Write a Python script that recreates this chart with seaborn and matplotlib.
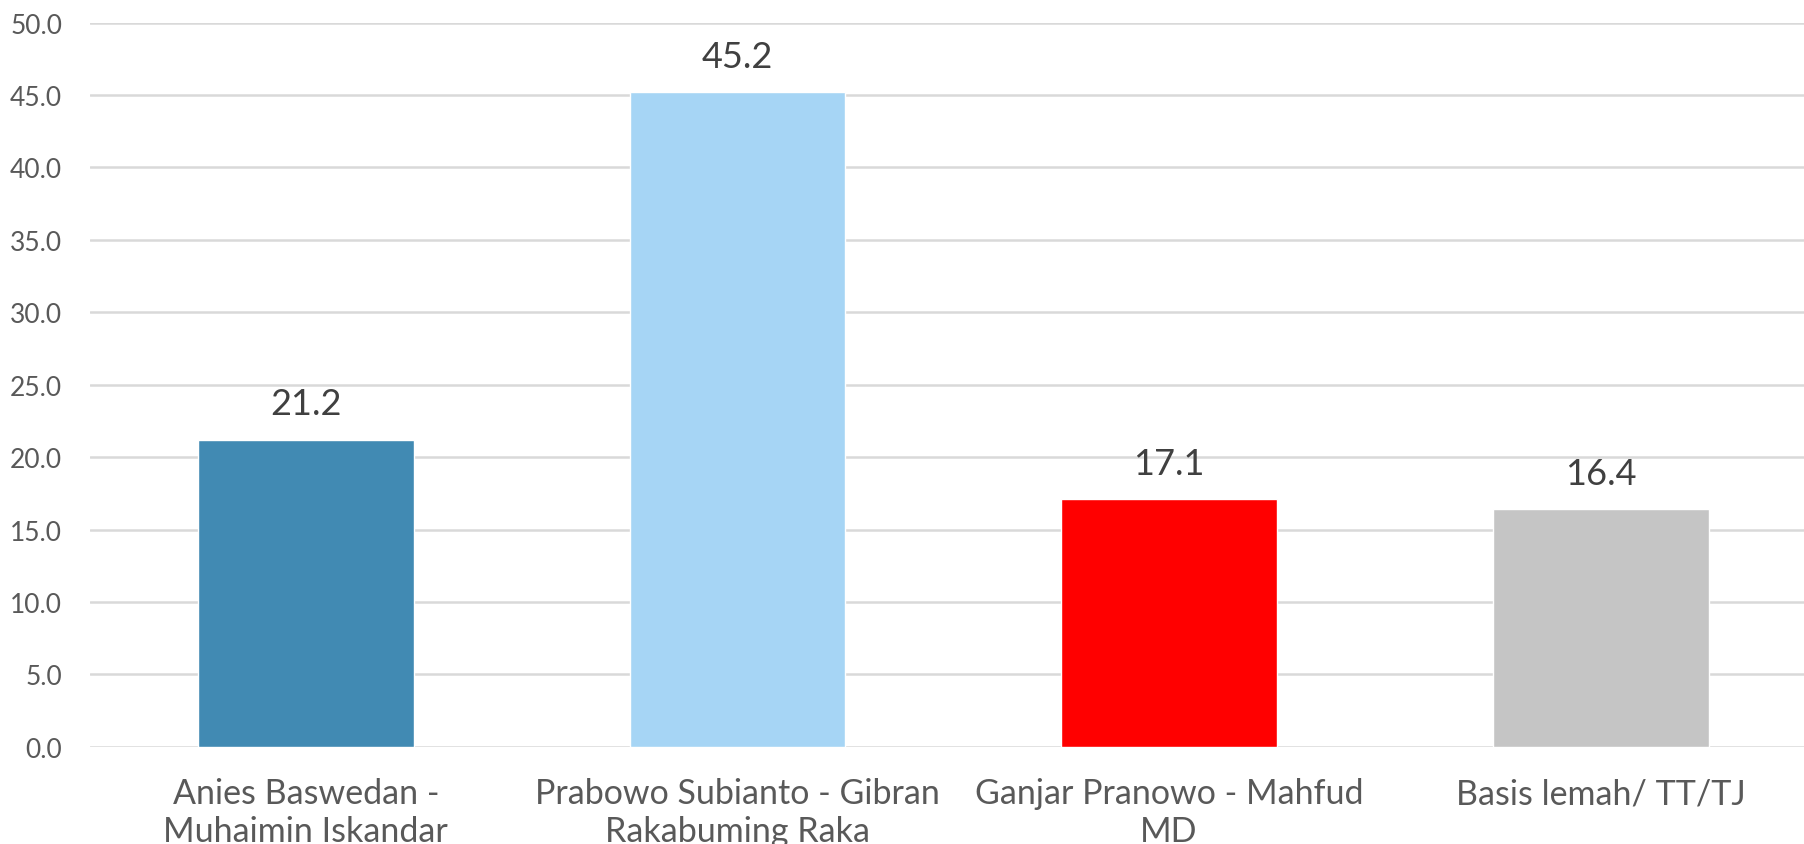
import matplotlib
matplotlib.use("Agg")
import matplotlib.pyplot as plt
import seaborn as sns
import pandas as pd

categories = ["Anies Baswedan -\nMuhaimin Iskandar",
              "Prabowo Subianto - Gibran\nRakabuming Raka",
              "Ganjar Pranowo - Mahfud\nMD",
              "Basis lemah/ TT/TJ"]
values = [21.2, 45.2, 17.1, 16.4]
colors = ["#418AB3", "#A6D5F5", "#FF0000", "#C5C5C5"]
yticks = [0, 5, 10, 15, 20, 25, 30, 35, 40, 45, 50]

sns.set_theme(style="white")
plt.rcParams['font.family'] = ['Lato', 'DejaVu Sans']

df = pd.DataFrame({"cat": categories, "val": values})
fig = plt.figure(figsize=(18.04, 8.45), dpi=100)
ax = fig.add_axes([0.0499, 0.115, 0.957, 0.857])
sns.barplot(data=df, x="cat", y="val", hue="cat", palette=colors, legend=False,
            width=0.5, ax=ax, saturation=1, zorder=3)
ax.set_ylim(0, 50)
ax.set_yticks(yticks)
ax.set_yticklabels([f"{t:.1f}" for t in yticks], fontsize=19, color="#595959")
ax.tick_params(axis='x', labelsize=24.5, colors="#595959", length=0, pad=22)
ax.tick_params(axis='y', length=0, pad=20)
ax.set_xlabel("")
ax.set_ylabel("")
ax.grid(axis='y', color="#D9D9D9", linewidth=1.8, zorder=0)
for s in ax.spines.values():
    s.set_visible(False)
ax.set_xlim(-0.5, 3.5)
for c in ax.containers:
    ax.bar_label(c, labels=[f"{v:.1f}" for v in c.datavalues], fontsize=26,
                 color="#404040", padding=14)
fig.savefig("out.png", dpi=100)
